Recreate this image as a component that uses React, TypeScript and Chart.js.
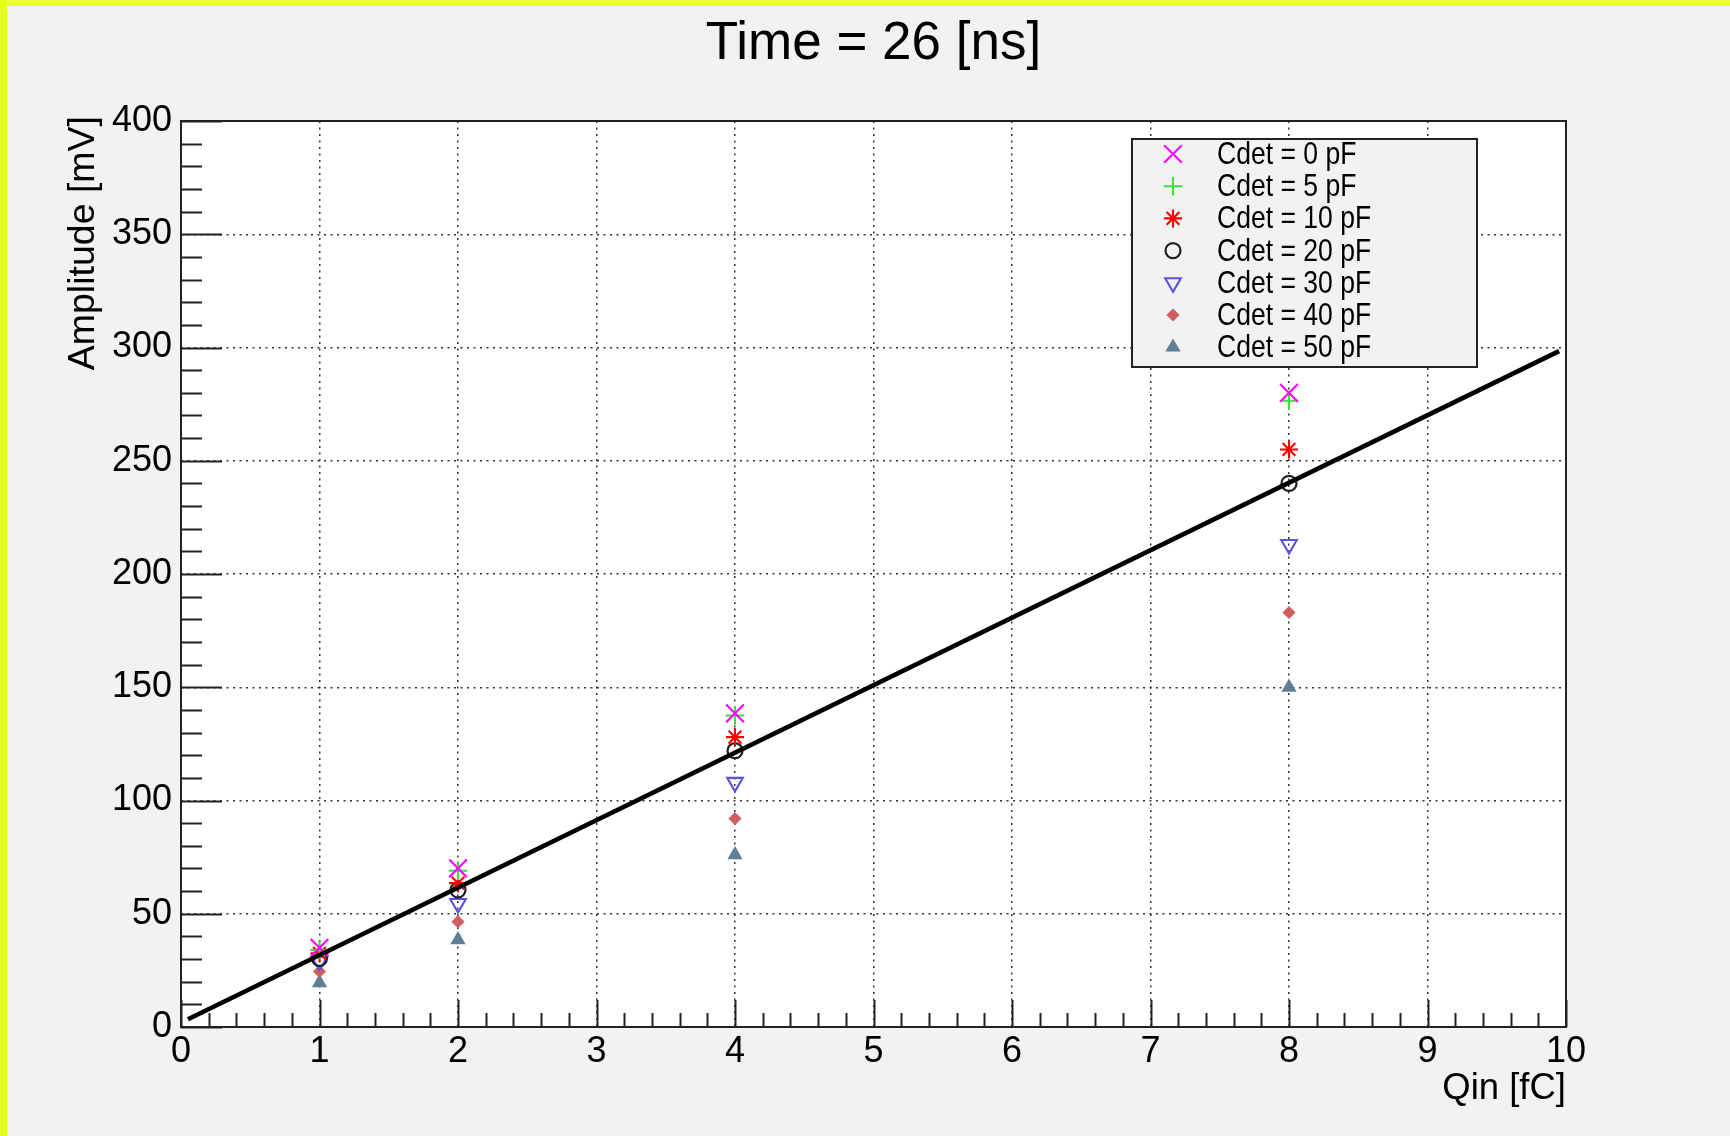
import React, { useEffect, useRef } from "react";
import { Chart, registerables } from "chart.js";
import { drawPoint } from "chart.js/helpers";

Chart.register(...registerables);

// Injected charge values (fC) at which the amplitude was measured
const chargeFC = [1, 2, 4, 8];

// Peak amplitude (mV) per detector capacitance
const amp0pF = [35, 70, 138.5, 280];
const amp5pF = [34, 69, 137.5, 276.5];
const amp10pF = [32.5, 63.5, 128, 255];
const amp20pF = [30.3, 60.5, 122, 240];
const amp30pF = [29, 54.5, 108, 213];
const amp40pF = [24.5, 46.5, 92, 183];
const amp50pF = [19.5, 38.5, 76, 150];

const seriesLabels = [
  "Cdet = 0 pF",
  "Cdet = 5 pF",
  "Cdet = 10 pF",
  "Cdet = 20 pF",
  "Cdet = 30 pF",
  "Cdet = 40 pF",
  "Cdet = 50 pF",
];
const seriesValues = [amp0pF, amp5pF, amp10pF, amp20pF, amp30pF, amp40pF, amp50pF];

// Linear reference line (end points)
const fitQ = [0.05, 9.95];
const fitAmp = [3.4, 298.4];

// Axis ranges
const xRange = [0, 10];
const yRange = [0, 400];
const yStep = 50;
const xStep = 1;

const titleText = "Time = 26 [ns]";
const xTitle = "Qin [fC]";
const yTitle = "Amplitude [mV]";

const FONT = "'Liberation Sans', Arial, Helvetica, sans-serif";

// Marker appearance per series
const markerStyles = [
  { pointStyle: "crossRot", radius: 12.5, color: "#ff00ff", fill: "rgba(0,0,0,0)", rotation: 0, width: 2.1 },
  { pointStyle: "cross", radius: 9.3, color: "#3ee03e", fill: "rgba(0,0,0,0)", rotation: 0, width: 2.1 },
  { pointStyle: "star", radius: 9, color: "#ff0000", fill: "rgba(0,0,0,0)", rotation: 0, width: 2.1 },
  { pointStyle: "circle", radius: 7.5, color: "#222222", fill: "rgba(0,0,0,0)", rotation: 0, width: 2.2 },
  { pointStyle: "triangle", radius: 9, color: "#5954d9", fill: "rgba(0,0,0,0)", rotation: 180, width: 2.1 },
  { pointStyle: "rectRot", radius: 6.6, color: "#cf5e61", fill: "#cf5e61", rotation: 0, width: 0 },
  { pointStyle: "triangle", radius: 8.8, color: "#5e7f98", fill: "#5e7f98", rotation: 0, width: 0 },
];

const framePlugin = {
  id: "frameDecor",
  beforeDraw(chart: any) {
    const { ctx, width, height, chartArea } = chart;
    ctx.save();
    ctx.fillStyle = "#f2f2f2";
    ctx.fillRect(0, 0, width, height);
    ctx.fillStyle = "#eaff3c";
    ctx.fillRect(0, 0, width, 6);
    ctx.fillStyle = "#e4ff18";
    ctx.fillRect(0, 0, 7, height);
    ctx.fillStyle = "#ffffff";
    ctx.fillRect(chartArea.left, chartArea.top, chartArea.right - chartArea.left, chartArea.bottom - chartArea.top);
    ctx.restore();
  },
  beforeDatasetsDraw(chart: any) {
    const { ctx, chartArea } = chart;
    const xs = chart.scales.x;
    const ys = chart.scales.y;
    ctx.save();
    ctx.strokeStyle = "#222222";
    ctx.lineWidth = 2;
    ctx.beginPath();
    // x axis ticks: major every unit, minor every fifth
    for (let i = 0; i <= 50; i++) {
      const v = xRange[0] + (i * xStep) / 5;
      const px = Math.round(xs.getPixelForValue(v)) + 0.5;
      const len = i % 5 === 0 ? 27 : 14;
      ctx.moveTo(px, chartArea.bottom);
      ctx.lineTo(px, chartArea.bottom - len);
    }
    // y axis ticks: major every 50, minor every 10
    for (let i = 0; i <= 40; i++) {
      const v = yRange[0] + (i * yStep) / 5;
      const py = Math.round(ys.getPixelForValue(v)) + 0.5;
      const len = i % 5 === 0 ? 41 : 21;
      ctx.moveTo(chartArea.left, py);
      ctx.lineTo(chartArea.left + len, py);
    }
    ctx.stroke();
    ctx.strokeRect(chartArea.left, chartArea.top, chartArea.right - chartArea.left, chartArea.bottom - chartArea.top);
    ctx.restore();
  },
  afterDraw(chart: any) {
    const { ctx, chartArea } = chart;
    ctx.save();
    ctx.fillStyle = "#000000";
    // title
    ctx.font = `53px ${FONT}`;
    ctx.textAlign = "center";
    ctx.textBaseline = "alphabetic";
    ctx.fillText(titleText, (chartArea.left + chartArea.right) / 2, 59);
    // x title, right aligned to the axis end
    ctx.font = `36.5px ${FONT}`;
    ctx.textAlign = "right";
    ctx.fillText(xTitle, chartArea.right, 1099);
    // y title, rotated, aligned to the axis top
    ctx.save();
    ctx.font = `37.5px ${FONT}`;
    ctx.translate(94, chartArea.top - 5);
    ctx.rotate(-Math.PI / 2);
    ctx.textAlign = "right";
    ctx.fillText(yTitle, 0, 0);
    ctx.restore();

    // legend box
    const bx = 1132, by = 139, bw = 345, bh = 228;
    ctx.fillStyle = "#f2f2f2";
    ctx.fillRect(bx, by, bw, bh);
    ctx.strokeStyle = "#222222";
    ctx.lineWidth = 2;
    ctx.strokeRect(bx, by, bw, bh);
    seriesLabels.forEach((label, i) => {
      const cy = 154 + 32.2 * i;
      const m = markerStyles[i];
      ctx.save();
      ctx.strokeStyle = m.color;
      ctx.fillStyle = m.fill;
      ctx.lineWidth = m.width || 1;
      drawPoint(ctx, { pointStyle: m.pointStyle, radius: m.radius, rotation: m.rotation, borderWidth: m.width }, 1173, cy);
      ctx.restore();
      ctx.save();
      ctx.fillStyle = "#000000";
      ctx.font = `30.5px ${FONT}`;
      ctx.textAlign = "left";
      ctx.textBaseline = "alphabetic";
      ctx.translate(1217, cy + 10);
      ctx.scale(0.87, 1);
      ctx.fillText(label, 0, 0);
      ctx.restore();
    });
    ctx.restore();
  },
};

export default function App() {
  const canvasRef = useRef<HTMLCanvasElement | null>(null);

  useEffect(() => {
    if (!canvasRef.current) return;
    const markerSets = seriesValues.map((vals, i) => {
      const m = markerStyles[i];
      return {
        label: seriesLabels[i],
        data: chargeFC.map((q, j) => ({ x: q, y: vals[j] })),
        showLine: false,
        pointStyle: m.pointStyle,
        pointRadius: m.radius,
        pointHoverRadius: m.radius,
        pointBorderColor: m.color,
        pointBackgroundColor: m.fill,
        pointBorderWidth: m.width,
        pointRotation: m.rotation,
        order: 1,
      };
    });
    const lineSet = {
      label: "fit",
      data: fitQ.map((q, j) => ({ x: q, y: fitAmp[j] })),
      showLine: true,
      borderColor: "#000000",
      borderWidth: 4.6,
      pointRadius: 0,
      order: 0,
    };

    const chart = new Chart(canvasRef.current, {
      type: "scatter",
      data: { datasets: [...markerSets, lineSet] as any },
      options: {
        animation: false,
        responsive: false,
        devicePixelRatio: 1,
        layout: { padding: { left: 0, top: 121, right: 164, bottom: 0 } },
        plugins: {
          legend: { display: false },
          title: { display: false },
          tooltip: { enabled: false },
        },
        events: [],
        scales: {
          x: {
            type: "linear",
            min: xRange[0],
            max: xRange[1],
            afterFit: (scale: any) => {
              scale.height = 109;
            },
            ticks: {
              stepSize: xStep,
              color: "#000000",
              padding: 3,
              font: { family: FONT, size: 36 },
            },
            grid: { color: "#333333", lineWidth: 1.5, drawTicks: false },
            border: { display: false, dash: [2, 4.5] },
          },
          y: {
            type: "linear",
            min: yRange[0],
            max: yRange[1],
            afterFit: (scale: any) => {
              scale.width = 181;
            },
            ticks: {
              stepSize: yStep,
              color: "#000000",
              padding: 9,
              font: { family: FONT, size: 36 },
            },
            grid: { color: "#333333", lineWidth: 1.5, drawTicks: false },
            border: { display: false, dash: [2, 4.5] },
          },
        },
      },
      plugins: [framePlugin],
    } as any);

    return () => chart.destroy();
  }, []);

  return (
    <div style={{ position: "fixed", left: 0, top: 0, width: 1730, height: 1136 }}>
      <canvas ref={canvasRef} width={1730} height={1136} style={{ display: "block", width: 1730, height: 1136 }} />
    </div>
  );
}
